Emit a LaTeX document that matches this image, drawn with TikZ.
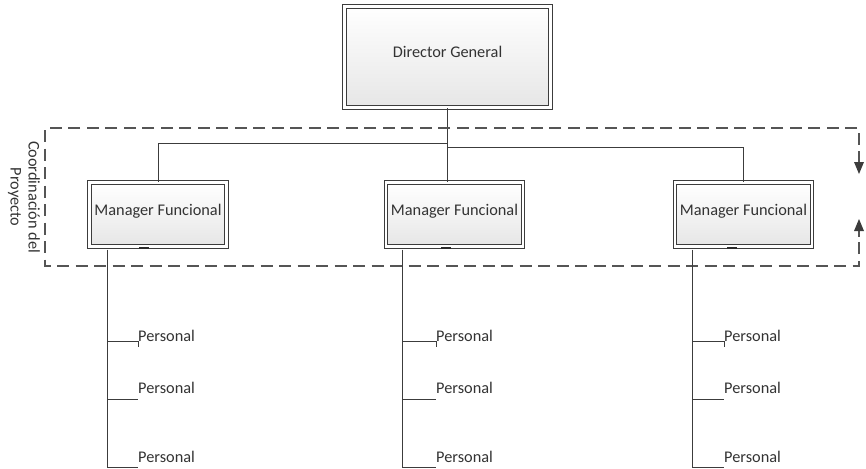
\documentclass[tikz,border=0pt]{standalone}
\usepackage{fontspec}
\setmainfont{Carlito}
\usetikzlibrary{arrows.meta}
\definecolor{ln}{HTML}{3C3C3C}
\definecolor{dl}{HTML}{555555}
\definecolor{tx}{HTML}{333333}
\definecolor{shd}{HTML}{E6E6E6}
\tikzset{
  box/.style={draw=ln, double=white, double distance=2.4pt, line width=1.1pt,
    top color=white, bottom color=shd, inner sep=0pt, text=tx,
    font=\fontsize{16.3}{19}\selectfont},
  conn/.style={draw=ln, line width=1pt},
  pers/.style={anchor=base west, inner sep=0pt, text=tx, font=\fontsize{16.3}{19}\selectfont},
  region/.style={draw=dl, line width=1.3pt, dash pattern=on 12pt off 6.5pt},
  tiphead/.style={fill=ln},
  notch/.style={draw=ln!70!black, line width=2.4pt}
}
\begin{document}
\begin{tikzpicture}[x=1pt,y=-1pt]
\useasboundingbox (0,0) rectangle (866,468);
% director
\node[box, minimum width=206pt, minimum height=101pt] (dir) at (447.5,57) {\raisebox{10pt}{Director General}};
% managers
\node[box, minimum width=137pt, minimum height=64pt] (m1) at (158,214.5) {\raisebox{9pt}{Manager Funcional}};
\node[box, minimum width=137pt, minimum height=64pt] (m2) at (454.5,214.5) {\raisebox{9pt}{Manager Funcional}};
\node[box, minimum width=137pt, minimum height=64pt] (m3) at (743.5,214.5) {\raisebox{9pt}{Manager Funcional}};
\draw[notch] (139,248.2) -- (149,248.2);
\draw[notch] (441,248.2) -- (451,248.2);
\draw[notch] (727,248.2) -- (737,248.2);
% hierarchy connectors
\coordinate (j) at (447,143);
\coordinate (jr) at (447,147);
\draw[conn] (dir.south -| j) -- (j);
\draw[conn] (j) -| (m1.north);
\draw[conn] (j) -- (jr) -| (m3.north);
\draw[conn] (jr) -- (j |- m2.north);
% dashed coordination region
\draw[region] (859,163) -- (859,128) -- (45,128) -- (45,266) -- (859,266) -- (859,232);
\draw[draw=dl, line width=1.3pt] (859,156) -- (859,164);
\draw[draw=dl, line width=1.3pt] (859,229) -- (859,237);
\fill[tiphead] (854,162) -- (864,162) -- (859,174) -- cycle;
\fill[tiphead] (854,231) -- (864,231) -- (859,219) -- cycle;
\node[rotate=-90, align=center, text=tx, inner sep=0pt, font=\fontsize{16.3}{18}\selectfont] (coord) at (24,197) {Coordinación del\\Proyecto};
% staff lines
\foreach \n/\vx/\px in {a/107/138, b/402/436, c/692/724}{
  \coordinate (\n top) at (\vx,249.5);
  \coordinate (\n bot) at (\vx,468);
  \draw[conn] (\n top) -- (\n bot);
  \node[pers] (\n1) at (\px,341) {Personal};
  \node[pers] (\n2) at (\px,393) {Personal};
  \node[pers] (\n3) at (\px,462) {Personal};
  \coordinate (\n h1) at (\vx,341);
  \coordinate (\n h2) at (\vx,399);
  \coordinate (\n h3) at (\vx,467);
  \draw[conn] (\n h1) -- (\n1.base west) -- ++(0,6);
  \draw[conn] (\n h2) -- (\n h2 -| \n2.west);
  \draw[conn] (\n h3) -- (\n h3 -| \n3.west);
}
\end{tikzpicture}
\end{document}
